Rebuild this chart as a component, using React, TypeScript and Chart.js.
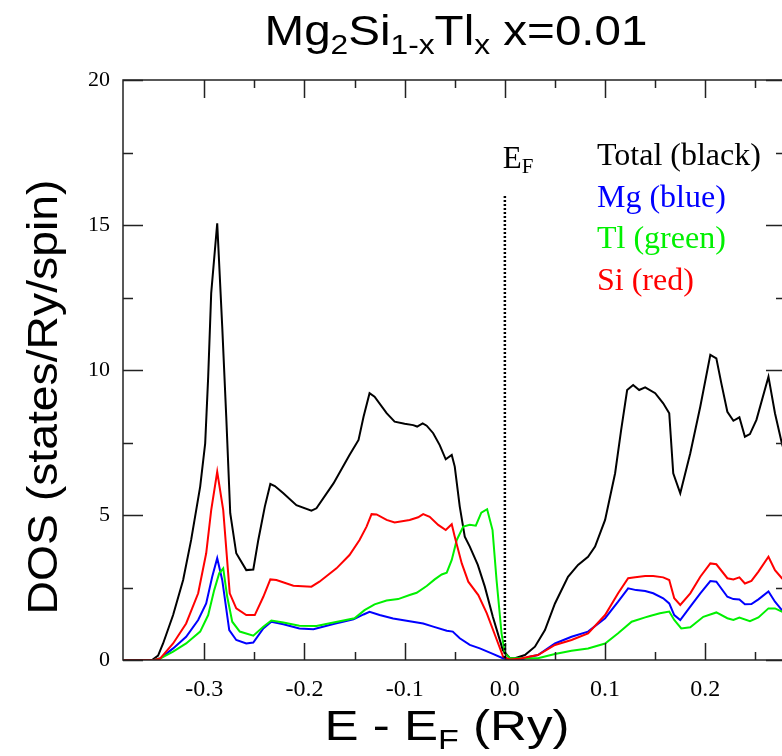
import React, { useEffect, useRef } from 'react';
import { Chart, registerables } from 'chart.js';

Chart.register(...registerables);

// ---- axis ranges / ticks ----
const X_MIN = -0.381;
const X_MAX = 0.2805;
const Y_MIN = 0;
const Y_MAX = 20;
const xMajorTicks = [-0.3, -0.2, -0.1, 0.0, 0.1, 0.2];
const xMinorTicks = [-0.25, -0.15, -0.05, 0.05, 0.15, 0.25];
const yMajorTicks = [0, 5, 10, 15, 20];
const yMinorTicks = [2.5, 7.5, 12.5, 17.5];

// ---- Total DOS (black) ----
const totalE = [-0.381, -0.352, -0.346, -0.341, -0.331, -0.321, -0.313, -0.304, -0.299, -0.296, -0.293, -0.287, -0.282, -0.278, -0.274, -0.268, -0.258, -0.251, -0.246, -0.2395, -0.234, -0.2295, -0.221, -0.208, -0.193, -0.188, -0.171, -0.155, -0.146, -0.141, -0.135, -0.13, -0.118, -0.11, -0.1, -0.0915, -0.0875, -0.082, -0.078, -0.0715, -0.065, -0.059, -0.053, -0.05, -0.045, -0.04, -0.035, -0.027, -0.02, -0.012, -0.002, 0.005, 0.01, 0.02, 0.03, 0.04, 0.05, 0.063, 0.073, 0.083, 0.09, 0.1, 0.11, 0.116, 0.122, 0.128, 0.134, 0.14, 0.15, 0.158, 0.164, 0.168, 0.175, 0.185, 0.195, 0.205, 0.211, 0.216, 0.222, 0.228, 0.234, 0.2395, 0.2445, 0.251, 0.263, 0.2695, 0.2764, 0.2805];
const totalDOS = [0, 0, 0.15, 0.57, 1.55, 2.76, 4.14, 5.98, 7.47, 9.77, 12.65, 15.06, 11.5, 8.4, 5.06, 3.68, 3.1, 3.12, 4.14, 5.29, 6.07, 6.0, 5.75, 5.34, 5.15, 5.23, 6.09, 7.07, 7.59, 8.39, 9.2, 9.08, 8.51, 8.22, 8.15, 8.1, 8.05, 8.16, 8.08, 7.82, 7.41, 6.92, 7.07, 6.67, 5.29, 4.25, 3.91, 3.28, 2.53, 1.49, 0.34, 0.06, 0.06, 0.17, 0.46, 1.03, 1.95, 2.87, 3.28, 3.56, 3.91, 4.83, 6.44, 7.93, 9.31, 9.48, 9.31, 9.4, 9.2, 8.85, 8.51, 6.44, 5.75, 7.13, 8.74, 10.52, 10.4, 9.54, 8.56, 8.25, 8.37, 7.7, 7.79, 8.28, 9.77, 8.51, 7.47, 7.0];

// ---- Mg (blue) ----
const mgE = [-0.381, -0.35, -0.344, -0.331, -0.318, -0.306, -0.298, -0.292, -0.287, -0.282, -0.275, -0.268, -0.258, -0.251, -0.241, -0.233, -0.221, -0.205, -0.191, -0.171, -0.151, -0.141, -0.135, -0.125, -0.1115, -0.095, -0.0815, -0.0715, -0.058, -0.052, -0.045, -0.035, -0.025, -0.012, -0.002, 0.005, 0.015, 0.025, 0.033, 0.05, 0.0665, 0.083, 0.1, 0.113, 0.123, 0.131, 0.14, 0.148, 0.158, 0.164, 0.169, 0.175, 0.185, 0.195, 0.205, 0.211, 0.222, 0.228, 0.234, 0.2395, 0.246, 0.253, 0.263, 0.2695, 0.2764, 0.2805];
const mgDOS = [0, 0, 0.05, 0.4, 0.8, 1.38, 1.95, 2.87, 3.51, 2.76, 1.03, 0.69, 0.57, 0.6, 1.09, 1.32, 1.23, 1.09, 1.06, 1.24, 1.4, 1.57, 1.66, 1.55, 1.43, 1.34, 1.26, 1.15, 1.01, 0.98, 0.75, 0.52, 0.4, 0.21, 0.06, 0, 0, 0.11, 0.17, 0.57, 0.8, 0.98, 1.44, 2.01, 2.47, 2.41, 2.38, 2.3, 2.13, 1.95, 1.55, 1.38, 1.84, 2.3, 2.72, 2.7, 2.18, 2.1, 2.09, 1.92, 1.93, 2.09, 2.36, 2.01, 1.72, 1.6];

// ---- Tl (green) ----
const tlE = [-0.381, -0.35, -0.344, -0.331, -0.318, -0.304, -0.296, -0.29, -0.285, -0.281, -0.277, -0.272, -0.2645, -0.251, -0.241, -0.233, -0.221, -0.205, -0.188, -0.171, -0.15, -0.14, -0.13, -0.118, -0.1065, -0.095, -0.088, -0.078, -0.07, -0.063, -0.058, -0.053, -0.048, -0.0415, -0.035, -0.029, -0.0235, -0.0177, -0.0123, -0.0083, -0.0033, 0.0, 0.005, 0.025, 0.033, 0.05, 0.0665, 0.083, 0.1, 0.113, 0.1265, 0.14, 0.1447, 0.1547, 0.164, 0.169, 0.176, 0.185, 0.198, 0.211, 0.222, 0.228, 0.234, 0.2445, 0.253, 0.263, 0.2695, 0.2764, 0.2805];
const tlDOS = [0, 0, 0.05, 0.29, 0.57, 0.98, 1.55, 2.41, 2.99, 3.16, 2.18, 1.32, 0.98, 0.84, 1.15, 1.36, 1.29, 1.18, 1.17, 1.29, 1.44, 1.72, 1.92, 2.05, 2.1, 2.24, 2.32, 2.55, 2.78, 2.95, 3.01, 3.45, 4.14, 4.6, 4.66, 4.63, 5.08, 5.2, 4.48, 2.76, 0.92, 0.23, 0.06, 0.06, 0.06, 0.21, 0.32, 0.4, 0.57, 0.92, 1.32, 1.47, 1.52, 1.61, 1.67, 1.38, 1.09, 1.13, 1.49, 1.64, 1.44, 1.38, 1.46, 1.34, 1.47, 1.78, 1.78, 1.67, 1.6];

// ---- Si (red) ----
const siE = [-0.381, -0.35, -0.344, -0.331, -0.318, -0.306, -0.298, -0.293, -0.287, -0.281, -0.2745, -0.268, -0.258, -0.2495, -0.241, -0.234, -0.228, -0.211, -0.193, -0.185, -0.168, -0.155, -0.145, -0.138, -0.133, -0.128, -0.118, -0.11, -0.095, -0.0865, -0.0815, -0.075, -0.0665, -0.059, -0.053, -0.05, -0.043, -0.0365, -0.0265, -0.018, -0.008, -0.0017, 0.005, 0.015, 0.025, 0.033, 0.05, 0.0665, 0.083, 0.1, 0.113, 0.123, 0.13, 0.14, 0.148, 0.158, 0.164, 0.169, 0.175, 0.185, 0.195, 0.205, 0.211, 0.222, 0.228, 0.234, 0.2395, 0.246, 0.253, 0.263, 0.2695, 0.2764, 0.2805];
const siDOS = [0, 0, 0.05, 0.57, 1.26, 2.3, 3.68, 5.17, 6.49, 5.17, 2.3, 1.78, 1.55, 1.55, 2.18, 2.78, 2.76, 2.56, 2.53, 2.7, 3.16, 3.62, 4.14, 4.6, 5.03, 5.02, 4.83, 4.74, 4.83, 4.92, 5.03, 4.94, 4.66, 4.48, 4.68, 4.25, 3.33, 2.7, 2.24, 1.61, 0.69, 0.11, 0.02, 0.04, 0.12, 0.17, 0.52, 0.69, 0.92, 1.55, 2.3, 2.82, 2.85, 2.9, 2.9, 2.85, 2.76, 2.13, 1.9, 2.3, 2.87, 3.33, 3.3, 2.82, 2.78, 2.85, 2.64, 2.73, 3.05, 3.56, 3.1, 2.82, 2.7];

const legendLabels = ['Total (black)', 'Mg (blue)', 'Tl (green)', 'Si (red)'];
const seriesColors = ['#000000', '#0000ff', '#00f000', '#ff0000'];

const SANS = "'Liberation Sans', Arial, Helvetica, sans-serif";
const SERIF = "'Liberation Serif', 'Times New Roman', Times, serif";

type Part = { t: string; sub?: boolean };

// Draws text with subscripts; if targetW is given the run is stretched horizontally to that width.
function drawRich(ctx: CanvasRenderingContext2D, parts: Part[], cx: number, baseline: number, mainPx: number, subPx: number, family: string, subDrop: number, align: 'center' | 'left' = 'center', targetW?: number) {
  const fontFor = (p: Part) => `${p.sub ? subPx : mainPx}px ${family}`;
  let total = 0;
  const widths = parts.map((p) => {
    ctx.font = fontFor(p);
    const w = ctx.measureText(p.t).width;
    total += w;
    return w;
  });
  const sx = targetW ? targetW / total : 1;
  const drawnW = total * sx;
  const x0 = align === 'center' ? cx - drawnW / 2 : cx;
  ctx.save();
  ctx.translate(x0, baseline);
  ctx.scale(sx, 1);
  ctx.textAlign = 'left';
  ctx.textBaseline = 'alphabetic';
  let x = 0;
  parts.forEach((p, i) => {
    ctx.font = fontFor(p);
    ctx.fillText(p.t, x, p.sub ? subDrop : 0);
    x += widths[i];
  });
  ctx.restore();
}

const decorPlugin = {
  id: 'decor',
  afterDraw(chart: any) {
    const { ctx, chartArea } = chart;
    const { left, right, top, bottom } = chartArea;
    const xs = chart.scales.x;
    const ys = chart.scales.y;
    ctx.save();

    // Frame
    ctx.strokeStyle = '#222';
    ctx.lineWidth = 1.5;
    ctx.setLineDash([]);
    ctx.strokeRect(left, top, right - left, bottom - top);

    // Inward ticks
    ctx.beginPath();
    xMajorTicks.forEach((v) => {
      const px = Math.round(xs.getPixelForValue(v)) + 0.5;
      ctx.moveTo(px, bottom); ctx.lineTo(px, bottom - 17);
      ctx.moveTo(px, top); ctx.lineTo(px, top + 18);
    });
    xMinorTicks.forEach((v) => {
      const px = Math.round(xs.getPixelForValue(v)) + 0.5;
      ctx.moveTo(px, bottom); ctx.lineTo(px, bottom - 8);
      ctx.moveTo(px, top); ctx.lineTo(px, top + 8);
    });
    yMajorTicks.forEach((v) => {
      const py = Math.round(ys.getPixelForValue(v)) + 0.5;
      ctx.moveTo(left, py); ctx.lineTo(left + 20, py);
      ctx.moveTo(right, py); ctx.lineTo(right - 20, py);
    });
    yMinorTicks.forEach((v) => {
      const py = Math.round(ys.getPixelForValue(v)) + 0.5;
      ctx.moveTo(left, py); ctx.lineTo(left + 10, py);
      ctx.moveTo(right, py); ctx.lineTo(right - 10, py);
    });
    ctx.stroke();

    // X tick labels
    ctx.fillStyle = '#000';
    ctx.font = `24px ${SERIF}`;
    ctx.textAlign = 'center';
    ctx.textBaseline = 'middle';
    xMajorTicks.forEach((v) => {
      ctx.fillText(v.toFixed(1), xs.getPixelForValue(v), bottom + 30);
    });

    // Fermi level dotted line
    const ef = xs.getPixelForValue(0);
    ctx.strokeStyle = '#000';
    ctx.lineWidth = 2.5;
    ctx.setLineDash([2, 2]);
    ctx.beginPath();
    ctx.moveTo(ef, ys.getPixelForValue(16));
    ctx.lineTo(ef, bottom);
    ctx.stroke();
    ctx.setLineDash([]);

    // E_F label
    ctx.fillStyle = '#000';
    drawRich(ctx, [{ t: 'E' }, { t: 'F', sub: true }], ef - 2, 168, 31, 21, SERIF, 5, 'left');

    // Legend text
    legendLabels.forEach((lbl, i) => {
      ctx.fillStyle = seriesColors[i];
      ctx.font = `32px ${SERIF}`;
      ctx.textAlign = 'left';
      ctx.textBaseline = 'alphabetic';
      ctx.fillText(lbl, 597, 165 + i * 41.5);
    });

    // Title
    ctx.fillStyle = '#000';
    drawRich(ctx, [
      { t: 'Mg' }, { t: '2', sub: true }, { t: 'Si' }, { t: '1-x', sub: true },
      { t: 'Tl' }, { t: 'x', sub: true }, { t: ' x=0.01' },
    ], 456, 45, 42, 28, SANS, 9, 'center', 383);

    // X axis title
    drawRich(ctx, [{ t: 'E - E' }, { t: 'F', sub: true }, { t: ' (Ry)' }], 447, 740, 42, 28, SANS, 9, 'center', 245);

    // Y axis title
    ctx.save();
    ctx.translate(57, 397);
    ctx.rotate(-Math.PI / 2);
    ctx.font = `42px ${SANS}`;
    const natural = ctx.measureText('DOS (states/Ry/spin)').width;
    ctx.scale(435 / natural, 1);
    ctx.textAlign = 'center';
    ctx.textBaseline = 'alphabetic';
    ctx.fillText('DOS (states/Ry/spin)', 0, 0);
    ctx.restore();

    ctx.restore();
  },
};

function pairs(xsArr: number[], ysArr: number[]) {
  return xsArr.map((x, i) => ({ x, y: ysArr[i] }));
}

export default function App() {
  const canvasRef = useRef<HTMLCanvasElement | null>(null);

  useEffect(() => {
    const canvas = canvasRef.current;
    if (!canvas) return;
    const lineDs = (label: string, data: any[], color: string, order: number) => ({
      label,
      data,
      borderColor: color,
      backgroundColor: color,
      borderWidth: 2,
      pointRadius: 0,
      tension: 0,
      fill: false,
      order,
    });
    const chart = new Chart(canvas, {
      type: 'line',
      data: {
        datasets: [
          lineDs('Total', pairs(totalE, totalDOS), seriesColors[0], 4),
          lineDs('Mg', pairs(mgE, mgDOS), seriesColors[1], 3),
          lineDs('Tl', pairs(tlE, tlDOS), seriesColors[2], 2),
          lineDs('Si', pairs(siE, siDOS), seriesColors[3], 1),
        ],
      },
      options: {
        animation: false,
        responsive: false,
        devicePixelRatio: 1,
        layout: { padding: { left: 0, right: 14, top: 80, bottom: 0 } },
        plugins: {
          legend: { display: false },
          tooltip: { enabled: false },
          title: { display: false },
        },
        scales: {
          x: {
            type: 'linear',
            min: X_MIN,
            max: X_MAX,
            afterBuildTicks: (s: any) => {
              s.ticks = xMajorTicks.map((v) => ({ value: v }));
            },
            afterFit: (s: any) => {
              s.height = 96;
            },
            ticks: { display: false },
            grid: { display: false, drawTicks: false },
            border: { display: false },
          },
          y: {
            type: 'linear',
            min: Y_MIN,
            max: Y_MAX,
            afterBuildTicks: (s: any) => {
              s.ticks = yMajorTicks.map((v) => ({ value: v }));
            },
            afterFit: (s: any) => {
              s.width = 123;
            },
            ticks: {
              autoSkip: false,
              padding: 13,
              color: '#000',
              font: { family: SERIF, size: 22 },
              callback: (v: any) => String(v),
            },
            grid: { display: false, drawTicks: false },
            border: { display: false },
          },
        },
      },
      plugins: [decorPlugin],
    });
    return () => chart.destroy();
  }, []);

  return (
    <div style={{ position: 'fixed', left: 0, top: 0, width: 782, height: 756, overflow: 'hidden', background: '#fff' }}>
      <canvas ref={canvasRef} width={800} height={756} style={{ display: 'block', width: 800, height: 756 }} />
    </div>
  );
}
